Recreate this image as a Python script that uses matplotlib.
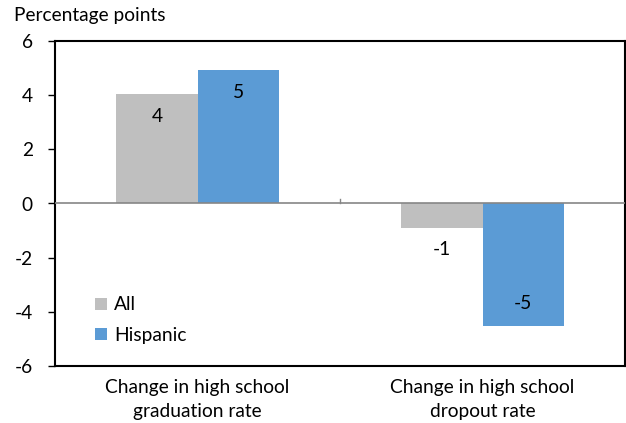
import matplotlib
matplotlib.use("Agg")
import matplotlib.pyplot as plt
import numpy as np

categories = ["Change in high school\ngraduation rate", "Change in high school\ndropout rate"]
all_values = [4.04, -0.9]
hispanic_values = [4.92, -4.52]
series_names = ["All", "Hispanic"]
y_ticks = [-6, -4, -2, 0, 2, 4, 6]

plt.rcParams['font.family'] = ['Lato', 'DejaVu Sans']
plt.rcParams['font.size'] = 13.8

fig = plt.figure(figsize=(6.26, 4.23), dpi=100)
ax = fig.add_axes([55 / 626, 1 - 366 / 423, 570 / 626, 325 / 423])

x = np.arange(len(categories))
width = 0.285
gray = "#bfbfbf"
blue = "#5b9bd5"

bars_all = ax.bar(x - width / 2, all_values, width, color=gray, label=series_names[0])
bars_hisp = ax.bar(x + width / 2, hispanic_values, width, color=blue, label=series_names[1])

# value labels just inside the bar end, or outside when the bar is too short
for bars in (bars_all, bars_hisp):
	for b in bars:
		v = b.get_height()
		cx = b.get_x() + b.get_width() / 2
		if abs(v) > 2:
			ypos = v - 0.82 if v > 0 else v + 0.82
		else:
			ypos = v - 0.8 if v < 0 else v + 0.8
		ax.text(cx, ypos, f"{v:.0f}", ha="center", va="center", color="black")

ax.axhline(0, color="#868686", lw=1.2, zorder=3)
ax.plot([0.5, 0.5], [0, 0.18], color="#868686", lw=1, zorder=3)

ax.set_xlim(-0.5, 1.5)
ax.set_ylim(-6, 6)
ax.set_yticks(y_ticks)
ax.set_yticklabels([str(t) for t in y_ticks])
ax.set_xticks(x)
ax.set_xticklabels(categories, linespacing=1.5)
ax.tick_params(axis="x", length=0, pad=9)
ax.tick_params(axis="y", direction="out", length=5, width=1, pad=11)

for s in ax.spines.values():
	s.set_linewidth(1.5)
	s.set_color("black")

fig.text(14 / 626, 1 - 16 / 423, "Percentage points", ha="left", va="center")

leg = ax.legend(loc="lower left", bbox_to_anchor=(0.04, 0.015), frameon=False,
	handlelength=0.6, handleheight=0.6, handletextpad=0.4, labelspacing=0.7)

plt.savefig("out.png", dpi=100)
